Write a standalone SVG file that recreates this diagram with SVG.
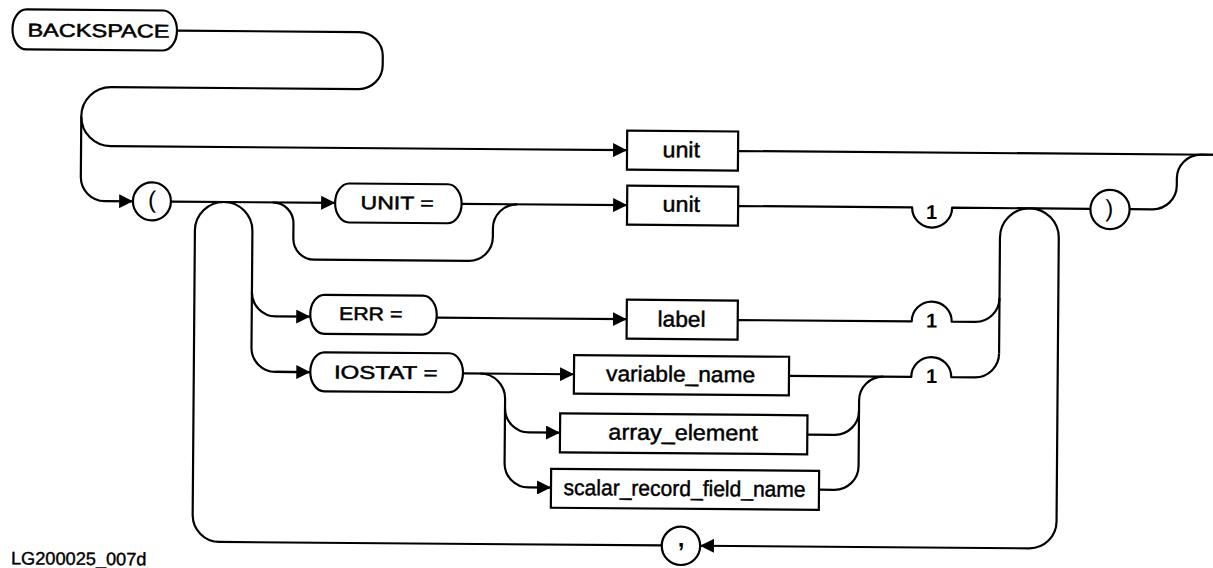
<svg xmlns="http://www.w3.org/2000/svg" width="1213" height="568" viewBox="0 0 1213 568">
  <style>
    .ln { fill: none; stroke: #000; stroke-width: 2.2; stroke-linejoin: round; }
    .bx { fill: #fff; stroke: #000; stroke-width: 2.2; }
    .kw { font-family: "Liberation Sans", Arial, sans-serif; font-size: 18.5px; fill: #000; stroke: #000; stroke-width: 0.5px; }
    .id { font-family: "Liberation Sans", Arial, sans-serif; font-size: 22px; fill: #000; stroke: #000; stroke-width: 0.45px; }
    .num { font-family: "Liberation Sans", Arial, sans-serif; font-size: 20px; font-weight: bold; fill: #000; text-anchor: middle; }
    .pun { font-family: "Liberation Sans", Arial, sans-serif; font-size: 24px; fill: #000; text-anchor: middle; }
    .cap { font-family: "Liberation Sans", Arial, sans-serif; font-size: 18px; fill: #000; stroke: #000; stroke-width: 0.4px; }
  </style>
  <defs>
    <marker id="ah" markerUnits="userSpaceOnUse" markerWidth="14" markerHeight="14" refX="14" refY="7" orient="auto">
      <path d="M0,0 L14,7 L0,14 Z" fill="#000"/>
    </marker>
  </defs>
  <rect width="1213" height="568" fill="#fff"/>

  <!-- whole sheet sits a little skewed on the page -->
  <g transform="rotate(0.45 606 284)">

    <g id="connectors">
      <!-- BACKSPACE, turn-back loop, down to "(" -->
      <path class="ln" marker-end="url(#ah)" d="M175,34 H357 A24,24 0 0 1 381,58 V67 A24,24 0 0 1 357,91 H109.5 A29.5,29.5 0 0 0 80,120.5 V181 A24,24 0 0 0 104,205 H132.5"/>
      <!-- short form: unit only -->
      <path class="ln" marker-end="url(#ah)" d="M80,120.5 A29.5,29.5 0 0 0 109.5,150 H626"/>
      <path class="ln" d="M737,150 H1230"/>
      <!-- "(" to UNIT = -->
      <path class="ln" marker-end="url(#ah)" d="M170.5,205 H334.5"/>
      <!-- optional UNIT = bypass -->
      <path class="ln" d="M272,205 A21,21 0 0 1 293,226 V241 A21,21 0 0 0 314,262 H468.5 A24,24 0 0 0 492.5,238 V229 A24,24 0 0 1 516.5,205"/>
      <path class="ln" marker-end="url(#ah)" d="M461,205 H626.5"/>
      <!-- unit, note 1, ")" -->
      <path class="ln" d="M737.5,205 H911.5 A20,20 0 0 0 951.5,205 H1090"/>
      <!-- ")" up to the exit line -->
      <path class="ln" d="M1129,205 H1152 A24,24 0 0 0 1176,181 V174 A24,24 0 0 1 1200,150 H1230"/>
      <!-- repeat loop: return through "," -->
      <path class="ln" d="M999.6,350.5 V234.4 A29.4,29.4 0 0 1 1058.4,234.4 V518 A27,27 0 0 1 1031.4,545 H702" marker-end="url(#ah)"/>
      <path class="ln" d="M664,545 H221.5 A27,27 0 0 1 194.5,518 V233.75 A28.75,28.75 0 0 1 252,233.75 V350.5 A24,24 0 0 0 276,374.5 H311"/>
      <path class="ln" marker-end="url(#ah)" d="M276,374.5 H311"/>
      <!-- ERR = label -->
      <path class="ln" marker-end="url(#ah)" d="M252,295 A24,24 0 0 0 276,319 H310.5"/>
      <path class="ln" marker-end="url(#ah)" d="M437,319 H627"/>
      <path class="ln" d="M738,319 H912 A20,20 0 0 1 952,319 H975.6 A24,24 0 0 0 999.6,295"/>
      <!-- IOSTAT = choices -->
      <path class="ln" marker-end="url(#ah)" d="M463.7,374.5 H574.7"/>
      <path class="ln" marker-end="url(#ah)" d="M481,374.5 A25,25 0 0 1 506,399.5 V464 A24,24 0 0 0 530,488 H552.6"/>
      <path class="ln" marker-end="url(#ah)" d="M506,409 A24,24 0 0 0 530,433 H561.2"/>
      <path class="ln" d="M789.7,374.5 H912 A20,20 0 0 1 952,374.5 H975.6 A24,24 0 0 0 999.6,350.5"/>
      <path class="ln" d="M808.5,433 H836 A24,24 0 0 0 860,409 V398.5 A24,24 0 0 1 884,374.5"/>
      <path class="ln" d="M820.6,488 H836 A24,24 0 0 0 860,464 V409"/>
    </g>

    <g id="n-backspace">
      <rect class="bx" x="10.5" y="14" width="164.5" height="40" rx="14" ry="20"/>
      <text class="kw" x="25.5" y="41" textLength="142" lengthAdjust="spacingAndGlyphs">BACKSPACE</text>
    </g>

    <g id="n-lparen">
      <circle class="bx" cx="151.3" cy="205" r="19"/>
      <text class="pun" x="151.3" y="211.4">(</text>
    </g>

    <g id="n-unit-kw">
      <rect class="bx" x="334.5" y="185.5" width="126.5" height="39" rx="14" ry="19.5"/>
      <text class="kw" x="360" y="211" textLength="73" lengthAdjust="spacingAndGlyphs">UNIT =</text>
    </g>

    <g id="n-unit-a">
      <rect class="bx" x="626" y="130.5" width="111" height="39"/>
      <text class="id" x="661.5" y="156.7" textLength="37.5" lengthAdjust="spacingAndGlyphs">unit</text>
    </g>

    <g id="n-unit-b">
      <rect class="bx" x="626.5" y="185.5" width="111" height="39"/>
      <text class="id" x="662" y="211.1" textLength="37.5" lengthAdjust="spacingAndGlyphs">unit</text>
    </g>

    <g id="n-err">
      <rect class="bx" x="310.5" y="297" width="126.5" height="39" rx="14" ry="19.5"/>
      <text class="kw" x="339.2" y="322" textLength="63.5" lengthAdjust="spacingAndGlyphs">ERR =</text>
    </g>

    <g id="n-label">
      <rect class="bx" x="627" y="299.5" width="111" height="39"/>
      <text class="id" x="657.8" y="326.1" textLength="48" lengthAdjust="spacingAndGlyphs">label</text>
    </g>

    <g id="n-iostat">
      <rect class="bx" x="311" y="354.5" width="152.7" height="39" rx="14" ry="19.5"/>
      <text class="kw" x="334.7" y="380.7" textLength="103.5" lengthAdjust="spacingAndGlyphs">IOSTAT =</text>
    </g>

    <g id="n-variable-name">
      <rect class="bx" x="574.7" y="355.3" width="215" height="38.6"/>
      <text class="id" x="606.8" y="381.1" textLength="149" lengthAdjust="spacingAndGlyphs">variable_name</text>
    </g>

    <g id="n-array-element">
      <rect class="bx" x="561.2" y="413.7" width="247.3" height="39"/>
      <text class="id" x="609.6" y="439.4" textLength="149.5" lengthAdjust="spacingAndGlyphs">array_element</text>
    </g>

    <g id="n-scalar-record-field-name">
      <rect class="bx" x="552.6" y="469.2" width="268" height="39"/>
      <text class="id" x="565.2" y="495.3" textLength="242" lengthAdjust="spacingAndGlyphs">scalar_record_field_name</text>
    </g>

    <g id="n-note-unit">
      <text class="num" x="931" y="216.5">1</text>
    </g>
    <g id="n-note-err">
      <text class="num" x="932" y="325">1</text>
    </g>
    <g id="n-note-iostat">
      <text class="num" x="932.3" y="380.5">1</text>
    </g>

    <g id="n-rparen">
      <circle class="bx" cx="1109.4" cy="205.5" r="19.6"/>
      <text class="pun" x="1108.6" y="212.6">)</text>
    </g>

    <g id="n-comma">
      <circle class="bx" cx="683" cy="545.2" r="19.2"/>
      <text class="pun" x="683.2" y="546" style="font-weight:bold">,</text>
    </g>

    <text id="caption" class="cap" x="13.2" y="569" textLength="135.5" lengthAdjust="spacingAndGlyphs">LG200025_007d</text>
  </g>
</svg>
